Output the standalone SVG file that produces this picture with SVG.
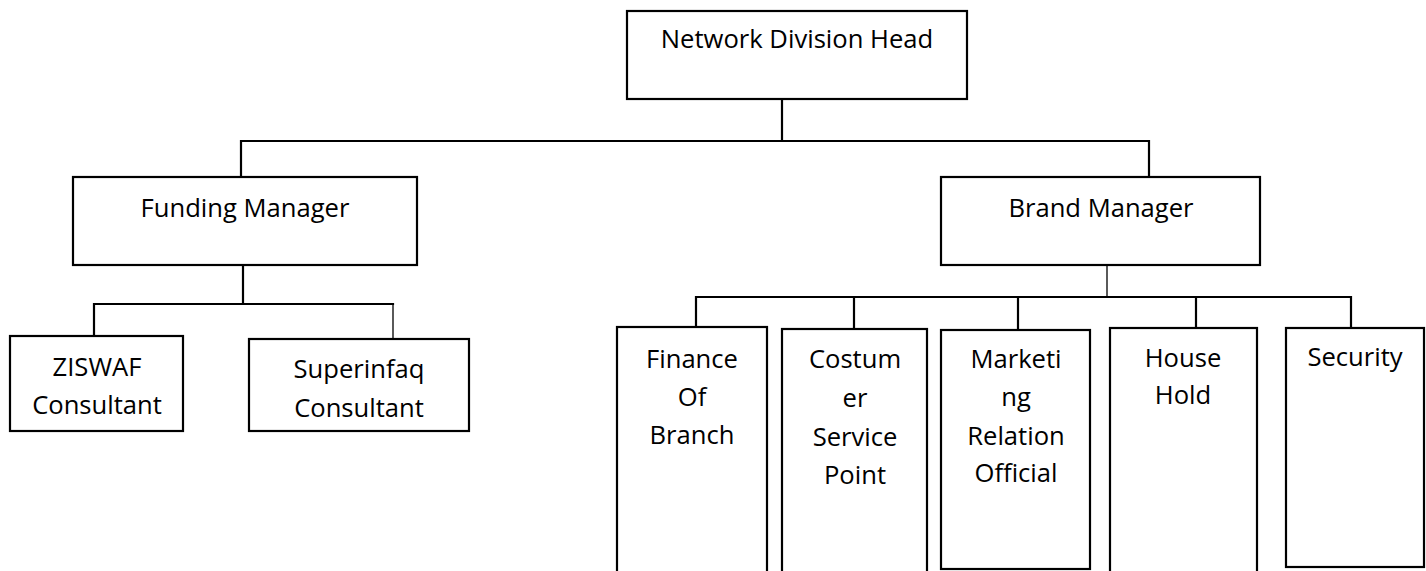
<svg xmlns="http://www.w3.org/2000/svg" width="1426" height="571" viewBox="0 0 1426 571">
  <style>
    .box { fill: #ffffff; stroke: #000000; stroke-width: 2.2; }
    .wire { fill: none; stroke: #000000; stroke-width: 2.2; stroke-linecap: square; }
    .thin { stroke-width: 1.3; }
    .label { font-family: "Open Sans", "Noto Sans", "Liberation Sans", sans-serif; font-size: 25.6px; fill: #000000; text-anchor: middle; }
  </style>
  <rect width="1426" height="571" fill="#ffffff"/>

  <!-- connectors -->
  <g id="connectors">
    <path class="wire" d="M782 99 V141 M241 141 H1149 M241 141 V177 M1149 141 V177"/>
    <path class="wire" d="M243 265 V304 M94 304 H393 M94 304 V336"/>
    <path class="wire thin" d="M393 304 V339"/>
    <path class="wire thin" d="M1107 265 V297"/>
    <path class="wire" d="M696 297 H1351 M696 297 V327 M854 297 V329 M1018 297 V330 M1196 297 V328 M1351 297 V328"/>
  </g>

  <g id="network-division-head">
    <rect class="box" x="627" y="11" width="340" height="88"/>
    <text class="label" x="797" y="48">Network Division Head</text>
  </g>

  <g id="funding-manager">
    <rect class="box" x="73" y="177" width="344" height="88"/>
    <text class="label" x="245" y="217">Funding Manager</text>
  </g>

  <g id="brand-manager">
    <rect class="box" x="941" y="177" width="319" height="88"/>
    <text class="label" x="1101" y="217">Brand Manager</text>
  </g>

  <g id="ziswaf-consultant">
    <rect class="box" x="10" y="336" width="173" height="95"/>
    <text class="label" x="97" y="376">ZISWAF</text>
    <text class="label" x="97" y="414">Consultant</text>
  </g>

  <g id="superinfaq-consultant">
    <rect class="box" x="249" y="339" width="220" height="92"/>
    <text class="label" x="359" y="378">Superinfaq</text>
    <text class="label" x="359" y="417">Consultant</text>
  </g>

  <g id="finance-of-branch">
    <rect class="box" x="617" y="327" width="150" height="260"/>
    <text class="label" x="692" y="368">Finance</text>
    <text class="label" x="692" y="406">Of</text>
    <text class="label" x="692" y="444">Branch</text>
  </g>

  <g id="costumer-service-point">
    <rect class="box" x="782" y="329" width="145" height="260"/>
    <text class="label" x="855" y="368">Costum</text>
    <text class="label" x="855" y="407">er</text>
    <text class="label" x="855" y="446">Service</text>
    <text class="label" x="855" y="484">Point</text>
  </g>

  <g id="marketing-relation-official">
    <rect class="box" x="941" y="330" width="149" height="239"/>
    <text class="label" x="1016" y="368">Marketi</text>
    <text class="label" x="1016" y="406">ng</text>
    <text class="label" x="1016" y="445">Relation</text>
    <text class="label" x="1016" y="482">Official</text>
  </g>

  <g id="house-hold">
    <rect class="box" x="1110" y="328" width="147" height="260"/>
    <text class="label" x="1183" y="367">House</text>
    <text class="label" x="1183" y="404">Hold</text>
  </g>

  <g id="security">
    <rect class="box" x="1286" y="328" width="138" height="239"/>
    <text class="label" x="1355" y="366">Security</text>
  </g>
</svg>
